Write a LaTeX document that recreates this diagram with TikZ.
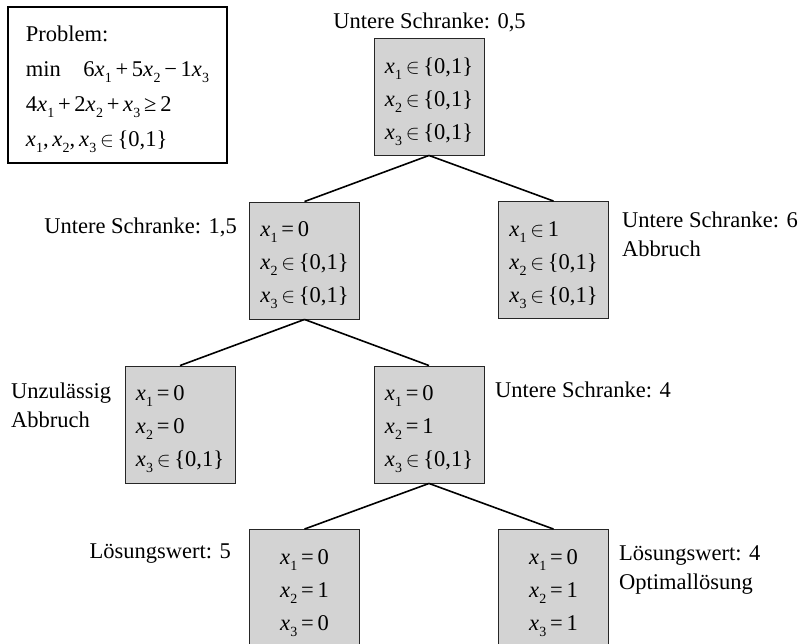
\documentclass[tikz,border=0pt]{standalone}
\usepackage{fontspec}
\setmainfont{Liberation Serif}
\definecolor{boxgray}{RGB}{211,211,211}
% italic variable with a lowered index
\newcommand\xv[1]{\textit{x}\kern0.3pt\raisebox{-0.26em}{\fontsize{14}{14}\selectfont #1}}
\newcommand\inset{\,$\in$\,}
\newcommand\eqs{\,=\,}
\begin{document}
\begin{tikzpicture}[x=1pt,y=-1pt,
  every node/.style={font=\fontsize{22.5}{33}\selectfont, inner sep=0pt},
  bbox/.style={draw=black!85, line width=0.9pt, fill=boxgray,
    minimum width=110pt, minimum height=117pt},
  btext/.style={align=left, yshift=-5pt},
  probbox/.style={draw=black, line width=1.6pt, fill=white,
    minimum width=219pt, minimum height=156pt},
  ptext/.style={align=left, font=\fontsize{22.5}{35}\selectfont, yshift=-4pt},
  edge/.style={line width=1.6pt},
  lbl/.style={anchor=base}]
\useasboundingbox (0,0) rectangle (801,643);
\clip (0,0) rectangle (801,643);

% problem statement
\node[probbox] (prob) at (117.5,85) {};
\node[ptext] (probT) at (prob.center) {Problem:\\
  min\quad 6\xv1\,+\,5\xv2\,−\,1\xv3\\
  4\xv1\,+\,2\xv2\,+\,\xv3\,≥\,2\\
  \xv1,\,\xv2,\,\xv3\inset\{0,1\}};

% branch-and-bound tree: boxes
\node[bbox] (root) at (429,96.5) {};
\node[bbox] (l2a) at (304.5,260.5) {};
\node[bbox] (l2b) at (553.5,260) {};
\node[bbox] (l3a) at (180,424.5) {};
\node[bbox] (l3b) at (429,424.5) {};
\node[bbox] (l4a) at (304.5,588) {};
\node[bbox] (l4b) at (553.5,588) {};

% variable fixings inside the boxes
\node[btext] (rootT) at (root.center) {\xv1\inset\{0,1\}\\ \xv2\inset\{0,1\}\\ \xv3\inset\{0,1\}};
\node[btext] (l2aT) at (l2a.center) {\xv1\eqs0\\ \xv2\inset\{0,1\}\\ \xv3\inset\{0,1\}};
\node[btext] (l2bT) at (l2b.center) {\xv1\inset1\\ \xv2\inset\{0,1\}\\ \xv3\inset\{0,1\}};
\node[btext] (l3aT) at (l3a.center) {\xv1\eqs0\\ \xv2\eqs0\\ \xv3\inset\{0,1\}};
\node[btext] (l3bT) at (l3b.center) {\xv1\eqs0\\ \xv2\eqs1\\ \xv3\inset\{0,1\}};
\node[btext] (l4aT) at (l4a.center) {\xv1\eqs0\\ \xv2\eqs1\\ \xv3\eqs0};
\node[btext] (l4bT) at (l4b.center) {\xv1\eqs0\\ \xv2\eqs1\\ \xv3\eqs1};

\draw[edge] (root.south) -- (l2a.north);
\draw[edge] (root.south) -- (l2b.north);
\draw[edge] (l2a.south) -- (l3a.north);
\draw[edge] (l2a.south) -- (l3b.north);
\draw[edge] (l3b.south) -- (l4a.north);
\draw[edge] (l3b.south) -- (l4b.north);

% annotations
\node[lbl] (tRoot) at (429.5,28) {Untere Schranke: 0,5};
\node[lbl, anchor=base east] (tL2a) at (237,233) {Untere Schranke: 1,5};
\node[lbl, anchor=base west] (tL2b) at (622,227) {Untere Schranke: 6};
\node[lbl, anchor=base west] (tL2bb) at (622,256) {Abbruch};
\node[lbl, anchor=base west] (tL3a) at (11,398) {Unzulässig};
\node[lbl, anchor=base west] (tL3aa) at (11,427) {Abbruch};
\node[lbl, anchor=base west] (tL3b) at (495,397) {Untere Schranke: 4};
\node[lbl, anchor=base east] (tL4a) at (231,558) {Lösungswert: 5};
\node[lbl, anchor=base west] (tL4b) at (619,560) {Lösungswert: 4};
\node[lbl, anchor=base west] (tL4bb) at (619,589) {Optimallösung};
\end{tikzpicture}
\end{document}
